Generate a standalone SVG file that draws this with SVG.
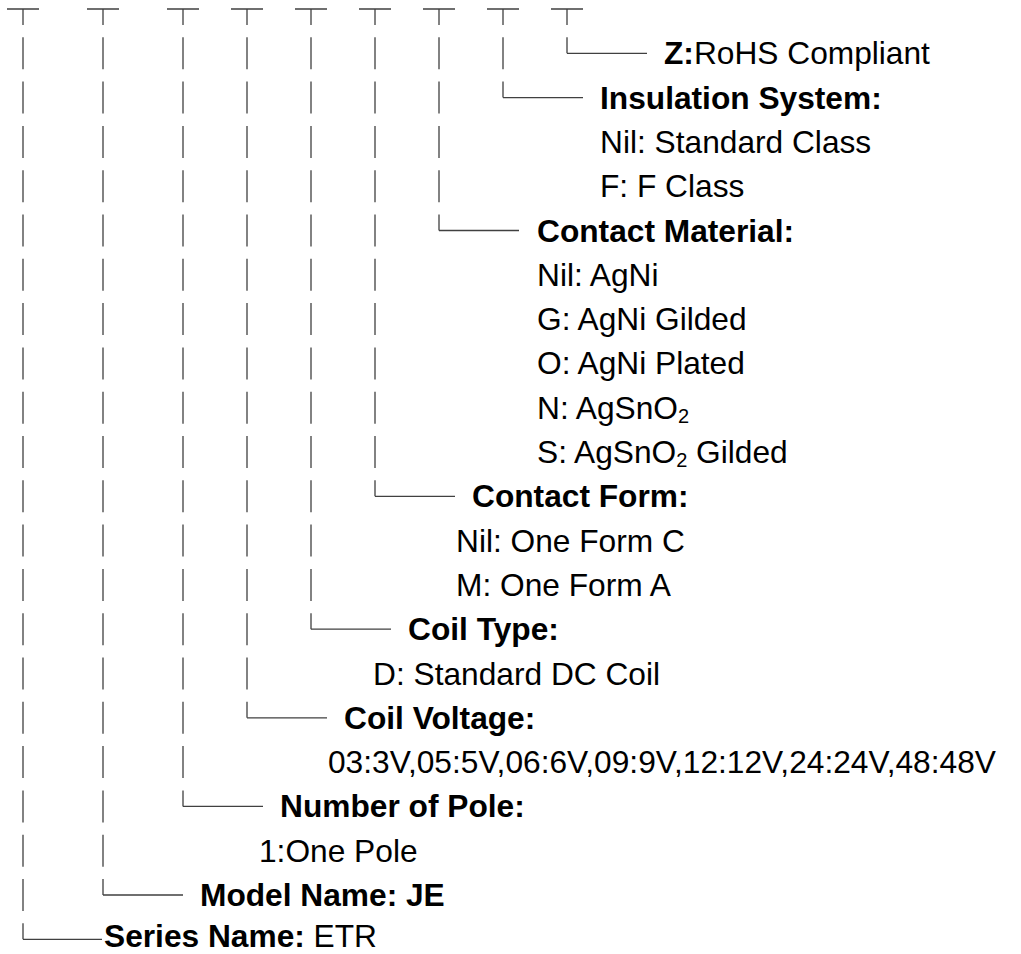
<svg xmlns="http://www.w3.org/2000/svg" width="1021" height="954" viewBox="0 0 1021 954">
<style>
.t{font-family:"Liberation Sans",Arial,Helvetica,sans-serif;font-size:31.7px;fill:#000}
.b{font-weight:bold}
.ln{fill:none;stroke:#404040;stroke-width:1.3}
.dash{fill:none;stroke:#404040;stroke-width:1.3;stroke-dasharray:32 12.3}
.sub{font-size:20px}
</style>
<rect width="1021" height="954" fill="#fff"/>
<g id="connectors">
  <path class="ln" d="M7 9H39M23 9V25M87 9H119M103 9V25M167 9H199M183 9V25M231 9H263M247 9V25M295 9H327M311 9V25M359 9H391M375 9V25M423 9H455M439 9V25M487 9H519M503 9V25M551 9H583M567 9V25"/>
  <path class="dash" d="M23 37.3V939.3M103 37.3V895M183 37.3V806.4M247 37.3V717.8M311 37.3V629.2M375 37.3V496.3M439 37.3V230.5M503 37.3V97.6M567 37.3V53.3"/>
  <path class="ln" d="M23 939.3H102M103 895H183M183 806.4H263M247 717.8H327M311 629.2H391M375 496.3H455M439 230.5H519M503 97.6H583M567 53.3H647"/>
</g>
<g id="rohs"><text class="t" x="664" y="64.3"><tspan class="b">Z:</tspan>RoHS Compliant</text></g>
<g id="insulation">
  <text class="t b" x="600" y="108.6">Insulation System:</text>
  <text class="t" x="600" y="152.9">Nil: Standard Class</text>
  <text class="t" x="600" y="197.2">F: F Class</text>
</g>
<g id="contact-material">
  <text class="t b" x="537" y="241.5">Contact Material:</text>
  <text class="t" x="537" y="285.8">Nil: AgNi</text>
  <text class="t" x="537" y="330.1">G: AgNi Gilded</text>
  <text class="t" x="537" y="374.4">O: AgNi Plated</text>
  <text class="t" x="537" y="418.7">N: AgSnO<tspan class="sub" dy="4">2</tspan></text>
  <text class="t" x="537" y="463">S: AgSnO<tspan class="sub" dy="4">2</tspan><tspan dy="-4"> Gilded</tspan></text>
</g>
<g id="contact-form">
  <text class="t b" x="472" y="507.3">Contact Form:</text>
  <text class="t" x="456" y="551.6">Nil: One Form C</text>
  <text class="t" x="456" y="595.9">M: One Form A</text>
</g>
<g id="coil-type">
  <text class="t b" x="408" y="640.2">Coil Type:</text>
  <text class="t" x="373" y="684.5">D: Standard DC Coil</text>
</g>
<g id="coil-voltage">
  <text class="t b" x="344" y="728.8">Coil Voltage:</text>
  <text class="t" x="328" y="773.1">03:3V,05:5V,06:6V,09:9V,12:12V,24:24V,48:48V</text>
</g>
<g id="poles">
  <text class="t b" x="280" y="817.4">Number of Pole:</text>
  <text class="t" x="259" y="861.7">1:One Pole</text>
</g>
<g id="model"><text class="t b" x="200" y="906">Model Name: JE</text></g>
<g id="series"><text class="t" x="104" y="947"><tspan class="b">Series Name:</tspan> ETR</text></g>
</svg>
